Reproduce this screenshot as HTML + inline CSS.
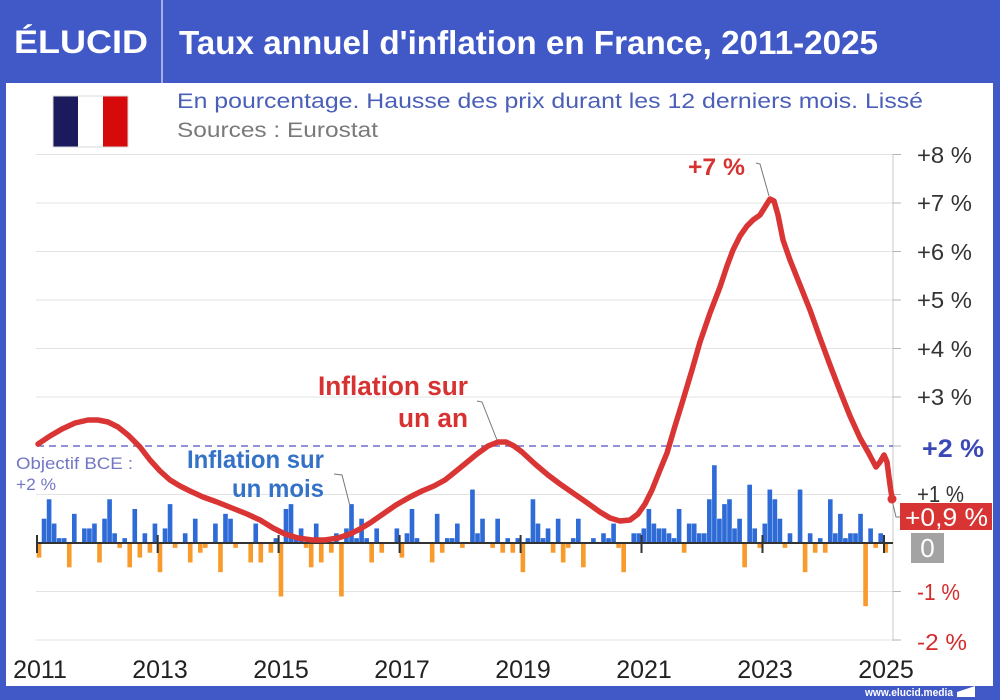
<!DOCTYPE html>
<html><head><meta charset="utf-8">
<style>
html,body{margin:0;padding:0;background:#fff;}
svg{display:block;font-family:"Liberation Sans",Arial,sans-serif;}
</style></head>
<body>
<svg width="1000" height="700" viewBox="0 0 1000 700" xmlns="http://www.w3.org/2000/svg">
<!-- frame -->
<rect x="0" y="0" width="1000" height="700" fill="#4059c7"/>
<rect x="6" y="83" width="987" height="603" fill="#ffffff"/>
<line x1="162" y1="0" x2="162" y2="83" stroke="#c3cbef" stroke-width="1.5"/>
<text x="14" y="53" fill="#fff" font-size="32" font-weight="bold" textLength="134" lengthAdjust="spacingAndGlyphs">ÉLUCID</text>
<text x="179" y="54" fill="#fff" font-size="33" font-weight="bold" textLength="699" lengthAdjust="spacingAndGlyphs">Taux annuel d'inflation en France, 2011-2025</text>

<!-- flag -->
<rect x="53" y="96" width="25" height="51" fill="#1b1a5c"/>
<rect x="78" y="96" width="25" height="51" fill="#ffffff"/>
<rect x="103" y="96" width="25" height="51" fill="#d60a0a"/>
<rect x="53" y="96" width="75" height="51" fill="none" stroke="#d8d8d8" stroke-width="1"/>

<text x="177" y="108" fill="#4a5fb8" font-size="21" textLength="746" lengthAdjust="spacingAndGlyphs">En pourcentage. Hausse des prix durant les 12 derniers mois. Lissé</text>
<text x="177" y="137" fill="#7a7a7a" font-size="21" textLength="201" lengthAdjust="spacingAndGlyphs">Sources : Eurostat</text>

<!-- gridlines -->
<g stroke="#e3e3e3" stroke-width="1">
<line x1="36" y1="154.5" x2="893" y2="154.5"/>
<line x1="36" y1="203" x2="893" y2="203"/>
<line x1="36" y1="251.5" x2="893" y2="251.5"/>
<line x1="36" y1="300" x2="893" y2="300"/>
<line x1="36" y1="348.5" x2="893" y2="348.5"/>
<line x1="36" y1="397" x2="893" y2="397"/>
<line x1="36" y1="494.5" x2="893" y2="494.5"/>
<line x1="36" y1="591.5" x2="893" y2="591.5"/>
<line x1="36" y1="640" x2="893" y2="640"/>
</g>
<line x1="893" y1="154" x2="893" y2="641" stroke="#c8c8c8" stroke-width="1"/>
<g stroke="#b5b5b5" stroke-width="1">
<line x1="893" y1="154.5" x2="901" y2="154.5"/>
<line x1="893" y1="203" x2="901" y2="203"/>
<line x1="893" y1="251.5" x2="901" y2="251.5"/>
<line x1="893" y1="300" x2="901" y2="300"/>
<line x1="893" y1="348.5" x2="901" y2="348.5"/>
<line x1="893" y1="397" x2="901" y2="397"/>
<line x1="893" y1="446" x2="901" y2="446"/>
<line x1="893" y1="494.5" x2="901" y2="494.5"/>
<line x1="893" y1="591.5" x2="901" y2="591.5"/>
<line x1="893" y1="640" x2="901" y2="640"/>
</g>

<!-- ECB target dashed -->
<line x1="37" y1="446" x2="893" y2="446" stroke="#6d6fcc" stroke-width="1.6" stroke-dasharray="7,5"/>

<!-- bars positive -->
<g transform="translate(36.7 543) scale(5.04 -4.86)" fill="#2e6bd6">
<rect x="1" width=".92" height="5"/><rect x="2" width=".92" height="9"/><rect x="3" width=".92" height="4"/><rect x="4" width=".92" height="1"/><rect x="5" width=".92" height="1"/><rect x="7" width=".92" height="6"/><rect x="9" width=".92" height="3"/><rect x="10" width=".92" height="3"/><rect x="11" width=".92" height="4"/>
<rect x="13" width=".92" height="5"/><rect x="14" width=".92" height="9"/><rect x="15" width=".92" height="2"/><rect x="17" width=".92" height="1"/><rect x="19" width=".92" height="7"/><rect x="21" width=".92" height="2"/><rect x="23" width=".92" height="4"/>
<rect x="25" width=".92" height="3"/><rect x="26" width=".92" height="8"/><rect x="29" width=".92" height="2"/><rect x="31" width=".92" height="5"/><rect x="35" width=".92" height="4"/>
<rect x="37" width=".92" height="6"/><rect x="38" width=".92" height="5"/><rect x="43" width=".92" height="4"/><rect x="47" width=".92" height="1"/>
<rect x="49" width=".92" height="7"/><rect x="50" width=".92" height="8"/><rect x="51" width=".92" height="1"/><rect x="52" width=".92" height="3"/><rect x="55" width=".92" height="4"/><rect x="59" width=".92" height="2"/>
<rect x="61" width=".92" height="3"/><rect x="62" width=".92" height="8"/><rect x="63" width=".92" height="1"/><rect x="64" width=".92" height="5"/><rect x="65" width=".92" height="1"/><rect x="67" width=".92" height="3"/><rect x="71" width=".92" height="3"/>
<rect x="73" width=".92" height="2"/><rect x="74" width=".92" height="7"/><rect x="75" width=".92" height="1"/><rect x="79" width=".92" height="6"/><rect x="81" width=".92" height="1"/><rect x="82" width=".92" height="1"/><rect x="83" width=".92" height="4"/>
<rect x="86" width=".92" height="11"/><rect x="87" width=".92" height="2"/><rect x="88" width=".92" height="5"/><rect x="91" width=".92" height="5"/><rect x="93" width=".92" height="1"/><rect x="95" width=".92" height="1"/>
<rect x="97" width=".92" height="1"/><rect x="98" width=".92" height="9"/><rect x="99" width=".92" height="4"/><rect x="100" width=".92" height="1"/><rect x="101" width=".92" height="3"/><rect x="103" width=".92" height="5"/><rect x="106" width=".92" height="1"/><rect x="107" width=".92" height="5"/>
<rect x="110" width=".92" height="1"/><rect x="112" width=".92" height="2"/><rect x="113" width=".92" height="1"/><rect x="114" width=".92" height="4"/><rect x="118" width=".92" height="2"/><rect x="119" width=".92" height="2"/>
<rect x="120" width=".92" height="3"/><rect x="121" width=".92" height="7"/><rect x="122" width=".92" height="4"/><rect x="123" width=".92" height="3"/><rect x="124" width=".92" height="3"/><rect x="125" width=".92" height="2"/><rect x="126" width=".92" height="1"/><rect x="127" width=".92" height="7"/><rect x="129" width=".92" height="4"/><rect x="130" width=".92" height="4"/><rect x="131" width=".92" height="2"/>
<rect x="132" width=".92" height="2"/><rect x="133" width=".92" height="9"/><rect x="134" width=".92" height="16"/><rect x="135" width=".92" height="5"/><rect x="136" width=".92" height="8"/><rect x="137" width=".92" height="9"/><rect x="138" width=".92" height="3"/><rect x="139" width=".92" height="5"/><rect x="141" width=".92" height="12"/><rect x="142" width=".92" height="3"/>
<rect x="144" width=".92" height="4"/><rect x="145" width=".92" height="11"/><rect x="146" width=".92" height="9"/><rect x="147" width=".92" height="5"/><rect x="149" width=".92" height="2"/><rect x="151" width=".92" height="11"/><rect x="153" width=".92" height="2"/><rect x="155" width=".92" height="1"/>
<rect x="157" width=".92" height="9"/><rect x="158" width=".92" height="2"/><rect x="159" width=".92" height="6"/><rect x="160" width=".92" height="1"/><rect x="161" width=".92" height="2"/><rect x="162" width=".92" height="2"/><rect x="163" width=".92" height="6"/><rect x="165" width=".92" height="3"/><rect x="167" width=".92" height="2"/>
</g>
<!-- bars negative -->
<g transform="translate(36.7 543) scale(5.04 -4.86)" fill="#f89a2c">
<rect x="0" y="-3" width=".92" height="3"/><rect x="6" y="-5" width=".92" height="5"/><rect x="12" y="-4" width=".92" height="4"/><rect x="16" y="-1" width=".92" height="1"/><rect x="18" y="-5" width=".92" height="5"/><rect x="20" y="-3" width=".92" height="3"/><rect x="22" y="-2" width=".92" height="2"/>
<rect x="24" y="-6" width=".92" height="6"/><rect x="27" y="-1" width=".92" height="1"/><rect x="30" y="-4" width=".92" height="4"/><rect x="32" y="-2" width=".92" height="2"/><rect x="33" y="-1" width=".92" height="1"/>
<rect x="36" y="-6" width=".92" height="6"/><rect x="39" y="-1" width=".92" height="1"/><rect x="42" y="-4" width=".92" height="4"/><rect x="44" y="-4" width=".92" height="4"/><rect x="46" y="-2" width=".92" height="2"/>
<rect x="48" y="-11" width=".92" height="11"/><rect x="53" y="-1" width=".92" height="1"/><rect x="54" y="-5" width=".92" height="5"/><rect x="56" y="-4" width=".92" height="4"/><rect x="58" y="-2" width=".92" height="2"/>
<rect x="60" y="-11" width=".92" height="11"/><rect x="66" y="-4" width=".92" height="4"/><rect x="68" y="-2" width=".92" height="2"/>
<rect x="72" y="-3" width=".92" height="3"/><rect x="78" y="-4" width=".92" height="4"/><rect x="80" y="-2" width=".92" height="2"/>
<rect x="84" y="-1" width=".92" height="1"/><rect x="90" y="-1" width=".92" height="1"/><rect x="92" y="-2" width=".92" height="2"/><rect x="94" y="-2" width=".92" height="2"/>
<rect x="96" y="-6" width=".92" height="6"/><rect x="102" y="-2" width=".92" height="2"/><rect x="104" y="-4" width=".92" height="4"/><rect x="105" y="-1" width=".92" height="1"/>
<rect x="108" y="-5" width=".92" height="5"/><rect x="115" y="-1" width=".92" height="1"/><rect x="116" y="-6" width=".92" height="6"/>
<rect x="128" y="-2" width=".92" height="2"/><rect x="140" y="-5" width=".92" height="5"/><rect x="143" y="-1" width=".92" height="1"/>
<rect x="148" y="-1" width=".92" height="1"/><rect x="152" y="-6" width=".92" height="6"/><rect x="154" y="-2" width=".92" height="2"/>
<rect x="156" y="-2" width=".92" height="2"/><rect x="164" y="-13" width=".92" height="13"/><rect x="166" y="-1" width=".92" height="1"/><rect x="168" y="-2" width=".92" height="2"/>
</g>

<!-- zero line & ticks -->
<line x1="36" y1="543" x2="893" y2="543" stroke="#333" stroke-width="2"/>
<g stroke="#333" stroke-width="2">
<line x1="37" y1="535" x2="37" y2="553"/>
<line x1="157.7" y1="535" x2="157.7" y2="553"/>
<line x1="278.6" y1="535" x2="278.6" y2="553"/>
<line x1="399.6" y1="535" x2="399.6" y2="553"/>
<line x1="520.6" y1="535" x2="520.6" y2="553"/>
<line x1="641.5" y1="535" x2="641.5" y2="553"/>
<line x1="762.5" y1="535" x2="762.5" y2="553"/>
<line x1="884" y1="535" x2="884" y2="553"/>
</g>

<!-- annotations pointer lines -->
<g fill="none" stroke="#777" stroke-width="1">
<polyline points="334,474 342,475 350,506"/>
<polyline points="477,401 482,402 497,440"/>
<polyline points="756,163 760,164 769,196"/>
<polyline points="892,500 896,517 900,517"/>
</g>

<!-- red yearly line -->
<polyline fill="none" stroke="#d93535" stroke-width="5.5" stroke-linejoin="round" stroke-linecap="round"
points="38,444 50,436 62,429 75,423 88,420 98,420 108,422 118,427 128,435 140,447 150,460 160,471 170,480 180,486 190,491 203,497 217,502 232,508 247,514 260,520 273,528 285,534 298,538 312,540 325,540 338,538 350,534 360,529 370,523 383,514 396,505 410,497 422,491 434,486 445,480 455,472 466,463 477,454 488,446 498,442 506,442 514,446 522,452 535,464 548,475 560,484 573,493 586,502 600,512 610,518 620,521 630,520 638,514 645,504 652,490 660,470 667,453 675,426 683,400 692,370 700,342 710,313 720,287 727,266 733,250 740,236 747,226 753,220 760,215 765,207 770,199 774,201 778,215 783,240 790,260 800,285 810,310 820,338 830,365 840,391 850,416 860,438 868,452 876,467 880,462 884,455 887,462 890,485 892,498"/>
<circle cx="892" cy="499" r="4.5" fill="#d93535"/>

<!-- text annotations -->
<text x="16" y="469" fill="#7276c4" font-size="17" textLength="117" lengthAdjust="spacingAndGlyphs">Objectif BCE :</text>
<text x="16" y="490" fill="#7276c4" font-size="17" textLength="40" lengthAdjust="spacingAndGlyphs">+2 %</text>
<text x="187" y="468" fill="#3472c8" font-size="25" font-weight="bold" textLength="137" lengthAdjust="spacingAndGlyphs">Inflation sur</text>
<text x="232" y="497" fill="#3472c8" font-size="25" font-weight="bold" textLength="92" lengthAdjust="spacingAndGlyphs">un mois</text>
<text x="318" y="395" fill="#d63232" font-size="27" font-weight="bold" textLength="150" lengthAdjust="spacingAndGlyphs">Inflation sur</text>
<text x="398" y="427" fill="#d63232" font-size="27" font-weight="bold" textLength="70" lengthAdjust="spacingAndGlyphs">un an</text>
<text x="688" y="175" fill="#d63232" font-size="24" font-weight="bold" textLength="57" lengthAdjust="spacingAndGlyphs">+7 %</text>

<!-- right axis labels -->
<g fill="#333" font-size="23">
<text x="917" y="163" textLength="55" lengthAdjust="spacingAndGlyphs">+8 %</text>
<text x="917" y="211" textLength="55" lengthAdjust="spacingAndGlyphs">+7 %</text>
<text x="917" y="260" textLength="55" lengthAdjust="spacingAndGlyphs">+6 %</text>
<text x="917" y="308" textLength="55" lengthAdjust="spacingAndGlyphs">+5 %</text>
<text x="917" y="357" textLength="55" lengthAdjust="spacingAndGlyphs">+4 %</text>
<text x="917" y="405" textLength="55" lengthAdjust="spacingAndGlyphs">+3 %</text>
<text x="917" y="502" textLength="47" lengthAdjust="spacingAndGlyphs">+1 %</text>
</g>
<text x="922" y="457" fill="#3a48b8" font-size="25" font-weight="bold" textLength="62" lengthAdjust="spacingAndGlyphs">+2 %</text>
<rect x="900" y="503" width="92" height="27" fill="#d83434"/>
<text x="905" y="526" fill="#fff" font-size="25" textLength="83" lengthAdjust="spacingAndGlyphs">+0,9 %</text>
<rect x="911" y="533" width="33" height="30" fill="#a3a3a3"/>
<text x="927.5" y="557" fill="#fff" font-size="26" text-anchor="middle">0</text>
<text x="917" y="600" fill="#d42b2b" font-size="23" textLength="43" lengthAdjust="spacingAndGlyphs">-1 %</text>
<text x="917" y="650" fill="#d42b2b" font-size="23" textLength="50" lengthAdjust="spacingAndGlyphs">-2 %</text>

<!-- x axis years -->
<g fill="#222" font-size="25" text-anchor="middle">
<text x="40" y="678">2011</text>
<text x="160" y="678">2013</text>
<text x="281" y="678">2015</text>
<text x="402" y="678">2017</text>
<text x="523" y="678">2019</text>
<text x="644" y="678">2021</text>
<text x="765" y="678">2023</text>
<text x="886" y="678">2025</text>
</g>

<!-- footer -->
<text x="865" y="696" fill="#fff" font-size="11" font-weight="bold" textLength="88" lengthAdjust="spacingAndGlyphs">www.elucid.media</text>
<polygon points="957,692 975,686 975,697 957,697" fill="#fff"/>
</svg>
</body></html>
